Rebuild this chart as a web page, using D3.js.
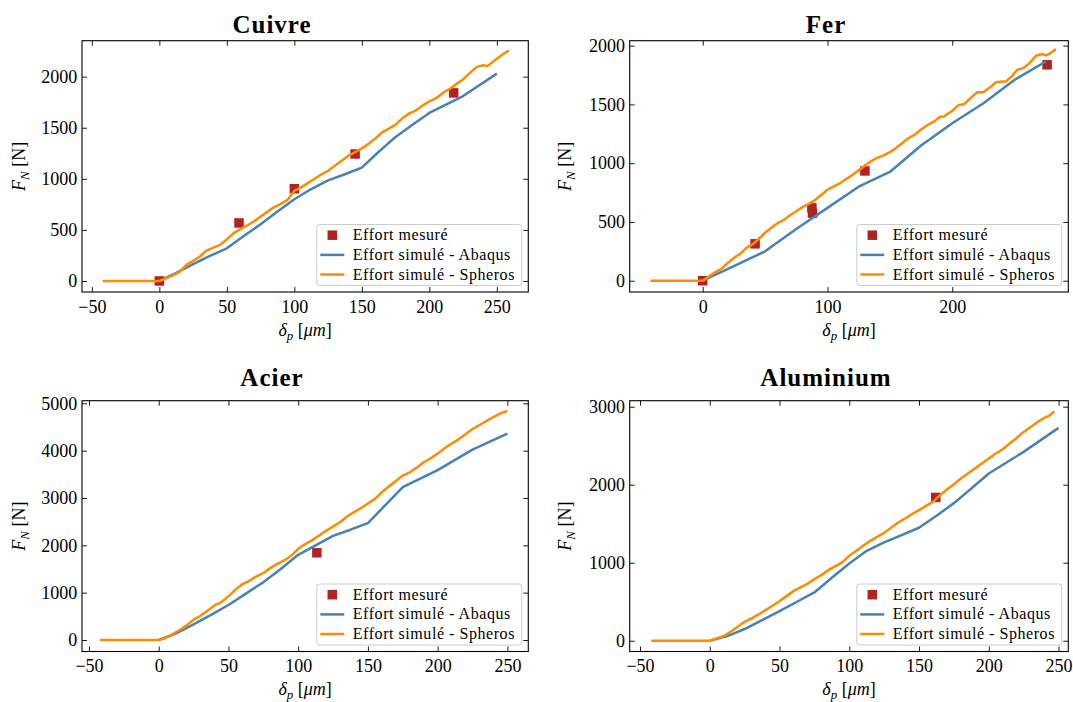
<!DOCTYPE html>
<html><head><meta charset="utf-8">
<script src="https://cdn.jsdelivr.net/npm/d3@7"></script>
<style>
body{margin:0;background:#fff}
svg text{font-family:"Liberation Serif","Times New Roman",serif;fill:#000}
</style>
</head><body>
<svg id="c" width="1073" height="702"></svg>
<script>
// ---------- DATA ----------
const legendLabels = ["Effort mesuré", "Effort simulé - Abaqus", "Effort simulé - Spheros"];
const titles = ["Cuivre", "Fer", "Acier", "Aluminium"];

// Cuivre
const cuMesX = [0, 59, 100, 145, 218];
const cuMesY = [0, 568, 903, 1243, 1841];
const cuAbaX = [0,12.5,25,37.5,50,62.5,75,87.5,100,112.5,125,137.5,150,162.5,175,187.5,200,225,250];
const cuAbaY = [0,80,165,245,320,440,555,680,800,900,985,1045,1110,1265,1410,1530,1645,1810,2030];
const cuSphX = [-42,0,5,10,15,20,25,30,35,40,45,50,55,60,65,70,75,80,85,90,95,100,105,110,115,120,125,130,135,140,145,150,155,160,165,170,175,180,185,190,195,200,205,210,215,220,225,230,235,240,243,250,255,259];
const cuSphY = [0,0,25,55,90,157,196,239,298,327,353,409,468,507,543,582,631,677,723,755,795,883,916,958,1000,1043,1079,1128,1177,1226,1262,1298,1344,1396,1455,1491,1530,1592,1638,1668,1717,1759,1789,1841,1880,1929,1972,2037,2096,2112,2103,2175,2224,2256];
const cuXTicks = [-50,0,50,100,150,200,250];
const cuYTicks = [0,500,1000,1500,2000];
const cuXLim = [-57.3, 273.3];
const cuYLim = [-108, 2352];

// Fer
const feMesX = [0, 42, 87.5, 88, 130, 276];
const feMesY = [0, 314, 620, 575, 934, 1837];
const feAbaX = [0,25,50,75,100,125,150,175,200,225,250,275];
const feAbaY = [0,125,250,440,620,800,925,1150,1340,1510,1710,1865];
const feSphX = [-42,0,5,10,15,20,25,30,35,40,45,50,55,60,65,70,75,80,85,90,95,100,105,110,115,120,125,130,135,140,145,150,155,160,165,170,175,180,185,190,193,195,200,205,208,210,215,220,225,230,235,240,243,248,252,257,262,267,272,275,279,283];
const feSphY = [0,0,37,71,100,151,194,229,280,309,357,409,451,489,517,557,591,626,654,686,729,774,803,829,866,900,940,980,1017,1046,1066,1094,1129,1171,1214,1243,1286,1323,1351,1394,1394,1409,1446,1494,1500,1506,1557,1603,1603,1643,1689,1694,1694,1743,1794,1809,1851,1914,1929,1917,1937,1971];
const feXTicks = [0,100,200];
const feYTicks = [0,500,1000,1500,2000];
const feXLim = [-58.5, 293];
const feYLim = [-96, 2042];

// Acier
const acMesX = [113.4];
const acMesY = [1842];
const acAbaX = [0,12.5,25,37.5,50,62.5,75,87.5,100,112.5,125,137.5,150,162.5,175,200,225,250];
const acAbaY = [0,140,330,530,740,980,1220,1500,1800,2000,2200,2330,2470,2850,3230,3590,4020,4360];
const acSphX = [-42,0,5,10,15,20,25,30,35,40,45,50,55,60,65,70,75,80,85,90,95,100,105,110,115,120,125,130,135,140,145,150,155,160,165,170,175,180,185,190,195,200,205,210,215,220,225,230,235,240,245,250];
const acSphY = [0,0,42,127,211,309,429,513,619,731,801,921,1062,1181,1251,1343,1413,1518,1610,1680,1779,1926,2025,2109,2208,2306,2397,2489,2608,2700,2784,2882,2981,3121,3241,3360,3473,3543,3641,3754,3838,3937,4049,4148,4239,4345,4457,4541,4626,4710,4787,4837];
const acXTicks = [-50,0,50,100,150,200,250];
const acYTicks = [0,1000,2000,3000,4000,5000];
const acXLim = [-55, 265];
const acYLim = [-243, 5055];

// Aluminium
const alMesX = [162];
const alMesY = [1837];
const alAbaX = [0,12.5,25,37.5,50,62.5,75,87.5,100,112.5,125,137.5,150,162.5,175,187.5,200,225,250];
const alAbaY = [0,60,150,265,380,500,619,807,991,1153,1260,1354,1448,1601,1764,1952,2143,2421,2729];
const alSphX = [-42,0,5,10,15,20,25,30,35,40,45,50,55,60,65,70,75,80,85,90,95,100,105,110,115,120,125,130,135,140,145,150,155,160,165,170,175,180,185,190,195,200,205,210,215,220,225,230,235,240,244,247];
const alSphY = [0,0,30,60,115,179,243,286,337,393,448,508,572,636,683,730,790,841,905,957,1004,1089,1153,1217,1281,1332,1383,1448,1516,1567,1623,1674,1729,1781,1866,1939,2007,2080,2144,2208,2272,2336,2400,2455,2528,2600,2677,2741,2805,2857,2891,2942];
const alXTicks = [-50,0,50,100,150,200,250];
const alYTicks = [0,1000,2000,3000];
const alXLim = [-57.4, 257];
const alYLim = [-138, 3077];

// ---------- LAYOUT ----------
const colX = [[82, 528.3], [629.7, 1068.3]];
const rowY = [[40.7, 292], [400.7, 651.5]];
const titleCX = [272, 826];
const titleBase = [33, 386];
const ylabX = [24.5, 571];
const colors = {mes: "#b22222", aba: "#4682b4", sph: "#ff8c00"};
const LW = 2.5;

const panels = [
  {t: titles[0], c: 0, r: 0, mx: cuMesX, my: cuMesY, ax: cuAbaX, ay: cuAbaY, sx: cuSphX, sy: cuSphY, xt: cuXTicks, yt: cuYTicks, xl: cuXLim, yl: cuYLim},
  {t: titles[1], c: 1, r: 0, mx: feMesX, my: feMesY, ax: feAbaX, ay: feAbaY, sx: feSphX, sy: feSphY, xt: feXTicks, yt: feYTicks, xl: feXLim, yl: feYLim},
  {t: titles[2], c: 0, r: 1, mx: acMesX, my: acMesY, ax: acAbaX, ay: acAbaY, sx: acSphX, sy: acSphY, xt: acXTicks, yt: acYTicks, xl: acXLim, yl: acYLim},
  {t: titles[3], c: 1, r: 1, mx: alMesX, my: alMesY, ax: alAbaX, ay: alAbaY, sx: alSphX, sy: alSphY, xt: alXTicks, yt: alYTicks, xl: alXLim, yl: alYLim}
];

const svg = d3.select("#c");
const fmt = d3.format("");
const TICK = 5;

panels.forEach(p => {
  const [x0, x1] = colX[p.c];
  const [y0, y1] = rowY[p.r];
  const x = d3.scaleLinear().domain(p.xl).range([x0, x1]);
  const y = d3.scaleLinear().domain(p.yl).range([y1, y0]);
  const g = svg.append("g");

  // title
  g.append("text").attr("x", titleCX[p.c]).attr("y", titleBase[p.r])
    .attr("text-anchor", "middle").attr("font-weight", "bold")
    .attr("font-size", 25).attr("letter-spacing", 1).text(p.t);

  // measured squares
  const sq = 9.5;
  g.append("g").selectAll("rect").data(p.mx.map((v, i) => [v, p.my[i]])).join("rect")
    .attr("x", d => x(d[0]) - sq / 2).attr("y", d => y(d[1]) - sq / 2)
    .attr("width", sq).attr("height", sq).attr("fill", colors.mes);

  const line = d3.line().x(d => x(d[0])).y(d => y(d[1]));
  g.append("path").datum(p.ax.map((v, i) => [v, p.ay[i]])).attr("d", line)
    .attr("fill", "none").attr("stroke", colors.aba).attr("stroke-width", LW).attr("stroke-linejoin", "round");
  g.append("path").datum(p.sx.map((v, i) => [v, p.sy[i]])).attr("d", line)
    .attr("fill", "none").attr("stroke", colors.sph).attr("stroke-width", LW).attr("stroke-linejoin", "round");

  // axes (ticks inward on all sides)
  const styleAxis = sel => {
    sel.attr("font-family", null);
    sel.select(".domain").remove();
    sel.selectAll(".tick line").attr("stroke", "#000").attr("stroke-width", 0.9);
    sel.selectAll("text").attr("font-size", 18);
  };
  g.append("g").attr("transform", `translate(0,${y1})`)
    .call(d3.axisBottom(x).tickValues(p.xt).tickSize(-TICK).tickPadding(8).tickFormat(fmt)).call(styleAxis);
  g.append("g").attr("transform", `translate(0,${y0})`)
    .call(d3.axisTop(x).tickValues(p.xt).tickSize(-TICK).tickFormat("")).call(styleAxis);
  g.append("g").attr("transform", `translate(${x0},0)`)
    .call(d3.axisLeft(y).tickValues(p.yt).tickSize(-TICK).tickPadding(4.7).tickFormat(fmt)).call(styleAxis);
  g.append("g").attr("transform", `translate(${x1},0)`)
    .call(d3.axisRight(y).tickValues(p.yt).tickSize(-TICK).tickFormat("")).call(styleAxis);

  g.append("rect").attr("x", x0).attr("y", y0).attr("width", x1 - x0).attr("height", y1 - y0)
    .attr("fill", "none").attr("stroke", "#000").attr("stroke-width", 1.1);

  // x label
  const xl = g.append("text").attr("x", (x0 + x1) / 2).attr("y", y1 + 43.5)
    .attr("text-anchor", "middle").attr("font-size", 18);
  xl.append("tspan").attr("font-style", "italic").text("δ");
  xl.append("tspan").attr("font-style", "italic").attr("font-size", 13).attr("dy", 4).text("p");
  xl.append("tspan").attr("dy", -4).text(" [");
  xl.append("tspan").attr("font-style", "italic").text("μm");
  xl.append("tspan").text("]");

  // y label
  const yc = (y0 + y1) / 2;
  const yl = g.append("text").attr("transform", `translate(${ylabX[p.c]},${yc}) rotate(-90)`)
    .attr("text-anchor", "middle").attr("font-size", 18);
  yl.append("tspan").attr("font-style", "italic").text("F");
  yl.append("tspan").attr("font-style", "italic").attr("font-size", 13).attr("dy", 4).text("N");
  yl.append("tspan").attr("dy", -4).text(" [N]");

  // legend
  const lw = 205, lh = 61;
  const lg = g.append("g").attr("transform", `translate(${x1 - 6.5 - lw},${y1 - 6.5 - lh})`);
  lg.append("rect").attr("width", lw).attr("height", lh).attr("rx", 3)
    .attr("fill", "#fff").attr("fill-opacity", 0.8).attr("stroke", "#ccc").attr("stroke-width", 1);
  const rowsY = [10.7, 30.4, 50];
  lg.append("rect").attr("x", 15.5 - sq / 2).attr("y", rowsY[0] - sq / 2).attr("width", sq).attr("height", sq).attr("fill", colors.mes);
  lg.append("line").attr("x1", 3.5).attr("x2", 27.5).attr("y1", rowsY[1]).attr("y2", rowsY[1]).attr("stroke", colors.aba).attr("stroke-width", LW);
  lg.append("line").attr("x1", 3.5).attr("x2", 27.5).attr("y1", rowsY[2]).attr("y2", rowsY[2]).attr("stroke", colors.sph).attr("stroke-width", LW);
  legendLabels.forEach((l, i) => {
    lg.append("text").attr("x", 36).attr("y", rowsY[i] + 5).attr("font-size", 16)
      .attr("letter-spacing", 0.55).text(l);
  });
});
</script>
</body></html>
